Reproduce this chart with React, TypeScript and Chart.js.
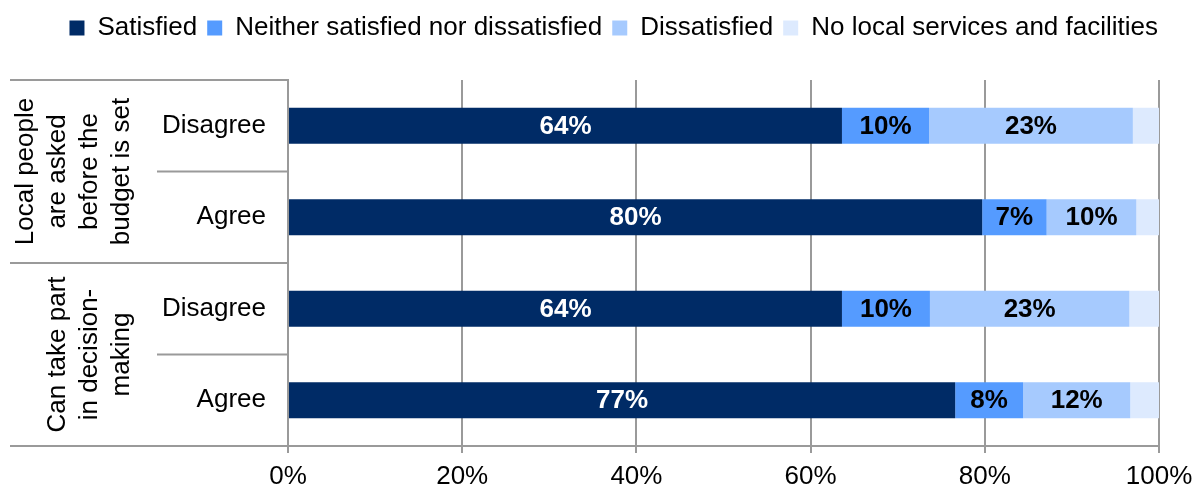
import React, { useEffect, useRef } from "react";
import { Chart, registerables } from "chart.js";

Chart.register(...registerables);

const categories = ["Disagree", "Agree", "Disagree", "Agree"];
const groupLabels = [
  ["Local people", "are asked", "before the", "budget is set"],
  ["Can take part", "in decision-", "making"],
];
const seriesNames = [
  "Satisfied",
  "Neither satisfied nor dissatisfied",
  "Dissatisfied",
  "No local services and facilities",
];
const satisfied = [63.6, 79.7, 63.6, 76.6];
const neither = [10.0, 7.4, 10.1, 7.8];
const dissatisfied = [23.4, 10.3, 22.9, 12.3];
const noServices = [3.0, 2.6, 3.4, 3.3];
const xTicks = [0, 20, 40, 60, 80, 100];

const COLORS = ["#002B66", "#559BFF", "#A6CAFE", "#DDEAFE"];
const FONT = "'Liberation Sans', Arial, Helvetica, sans-serif";
const LINE = "#9a9a9a";

const decorPlugin = {
  id: "decor",
  afterLayout(chart: any) {
    const lg = chart.legend;
    if (lg) {
      lg.right = 1168;
    }
  },
  beforeLayout(chart: any) {
    const lg = chart.legend;
    if (lg && !lg._patchedFit) {
      const orig = lg.fit.bind(lg);
      lg.fit = () => {
        orig();
        lg.height = 75;
      };
      lg._patchedFit = true;
    }
  },
  afterDraw(chart: any) {
    const ctx = chart.ctx;
    const ys = chart.scales.y;
    const area = chart.chartArea;
    const left = area.left;
    const p = (i: number) => ys.getPixelForValue(i);
    ctx.save();
    ctx.strokeStyle = LINE;
    ctx.lineWidth = 2;
    const outer = [area.top, (p(1) + p(2)) / 2, area.bottom];
    const inner = [(p(0) + p(1)) / 2, (p(2) + p(3)) / 2];
    outer.forEach((y) => {
      ctx.beginPath();
      ctx.moveTo(10, y);
      ctx.lineTo(left, y);
      ctx.stroke();
    });
    inner.forEach((y) => {
      ctx.beginPath();
      ctx.moveTo(157, y);
      ctx.lineTo(left, y);
      ctx.stroke();
    });
    // group labels
    ctx.fillStyle = "#000";
    ctx.font = `26px ${FONT}`;
    ctx.textAlign = "center";
    ctx.textBaseline = "middle";
    const centers = [(outer[0] + outer[1]) / 2, (outer[1] + outer[2]) / 2];
    groupLabels.forEach((lines, g) => {
      ctx.save();
      ctx.translate(122, centers[g]);
      ctx.rotate(-Math.PI / 2);
      const n = lines.length;
      lines.forEach((t, i) => {
        ctx.fillText(t, 0, -(n - 1 - i) * 32);
      });
      ctx.restore();
    });
    ctx.restore();
  },
  afterDatasetsDraw(chart: any) {
    const ctx = chart.ctx;
    ctx.save();
    ctx.font = `bold 26px ${FONT}`;
    ctx.textAlign = "center";
    ctx.textBaseline = "middle";
    chart.data.datasets.forEach((ds: any, di: number) => {
      if (di > 2) return;
      const meta = chart.getDatasetMeta(di);
      meta.data.forEach((bar: any, i: number) => {
        const { x, y, base } = bar.getProps(["x", "y", "base"], true);
        const v = ds.data[i];
        ctx.fillStyle = di === 0 ? "#ffffff" : "#000000";
        ctx.fillText(`${Math.round(v)}%`, (x + base) / 2, y + 1);
      });
    });
    ctx.restore();
  },
};

export default function App() {
  const ref = useRef<HTMLCanvasElement | null>(null);
  useEffect(() => {
    if (!ref.current) return;
    const seriesData = [satisfied, neither, dissatisfied, noServices];
    const chart = new Chart(ref.current, {
      type: "bar",
      data: {
        labels: categories,
        datasets: seriesNames.map((name, i) => ({
          label: name,
          data: seriesData[i],
          backgroundColor: COLORS[i],
          borderWidth: 0,
          barPercentage: 0.393,
          categoryPercentage: 1,
        })),
      },
      options: {
        indexAxis: "y",
        responsive: false,
        animation: false,
        layout: { padding: { top: 5, left: 0, right: 34, bottom: 0 } },
        plugins: {
          legend: {
            position: "top",
            align: "end",
            labels: {
              boxWidth: 15,
              boxHeight: 15,
              padding: 10,
              color: "#000",
              font: { size: 26, family: FONT },
            },
          },
          tooltip: { enabled: false },
        },
        scales: {
          x: {
            stacked: true,
            min: 0,
            max: 100,
            afterBuildTicks: (scale: any) => {
              scale.ticks = xTicks.map((v) => ({ value: v }));
            },
            afterFit: (scale: any) => {
              scale.height = 41;
              scale.paddingLeft = 0;
              scale.paddingRight = 0;
            },
            ticks: {
              color: "#000",
              padding: 8,
              font: { size: 26, family: FONT },
              callback: (v: any) => `${v}%`,
              maxRotation: 0,
            },
            grid: { color: LINE, lineWidth: 2, tickLength: 7, drawTicks: true },
            border: { display: true, color: LINE, width: 2 },
          },
          y: {
            stacked: true,
            afterFit: (scale: any) => {
              scale.width = 288;
              scale.paddingTop = 0;
              scale.paddingBottom = 0;
            },
            ticks: {
              color: "#000",
              padding: 22,
              font: { size: 26, family: FONT },
            },
            grid: { display: false, drawTicks: false, tickLength: 0 },
            border: { display: true, color: LINE, width: 2 },
          },
        },
      },
      plugins: [decorPlugin],
    } as any);
    return () => chart.destroy();
  }, []);
  return (
    <div style={{ position: "absolute", left: 0, top: 0, width: 1193, height: 487, background: "#fff" }}>
      <canvas ref={ref} width={1193} height={487} />
    </div>
  );
}
